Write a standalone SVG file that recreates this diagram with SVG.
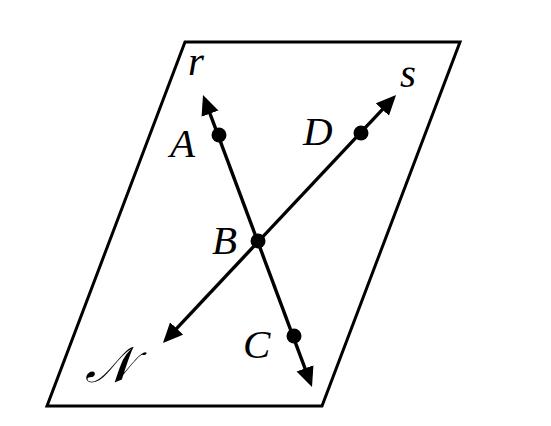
<svg xmlns="http://www.w3.org/2000/svg" width="551" height="426" viewBox="0 0 551 426">
<style>
.plane{fill:#fff;stroke:#000;stroke-width:3;stroke-linejoin:miter}
.ln{stroke:#000;stroke-width:3.4;fill:none;marker-start:url(#ah);marker-end:url(#ah)}
.pt{fill:#000}
.lb{font-family:"Liberation Serif","Times New Roman",serif;font-style:italic;font-size:41px;fill:#000}
.scr{font-size:50px}
</style>
<defs>
<marker id="ah" markerUnits="userSpaceOnUse" markerWidth="22" markerHeight="20" viewBox="0 0 22 20" refX="16" refY="9" orient="auto-start-reverse">
<path d="M0,0 L20,9 L0,18 z" fill="#000"/>
</marker>
</defs>
<rect width="551" height="426" fill="#fff"/>
<g id="plane">
<polygon class="plane" points="185,42 460,42 322,406 47,406"/>
<text class="lb scr" x="85" y="382">𝒩</text>
</g>
<g id="connectors">
<line id="line-r" class="ln" x1="204.4" y1="98.7" x2="310.6" y2="383.3"/>
<line id="line-s" class="ln" x1="393.3" y1="97.9" x2="165.7" y2="340.1"/>
</g>
<g id="label-r"><text class="lb" x="188" y="75">r</text></g>
<g id="label-s"><text class="lb" x="400" y="87">s</text></g>
<g id="A"><circle class="pt" cx="219" cy="135" r="7.5"/><text class="lb" x="170" y="157">A</text></g>
<g id="D"><circle class="pt" cx="361" cy="133" r="7.5"/><text class="lb" x="303" y="145">D</text></g>
<g id="B"><circle class="pt" cx="258" cy="241" r="7.5"/><text class="lb" x="212" y="254">B</text></g>
<g id="C"><circle class="pt" cx="294" cy="336" r="7.5"/><text class="lb" x="243" y="358">C</text></g>
</svg>
